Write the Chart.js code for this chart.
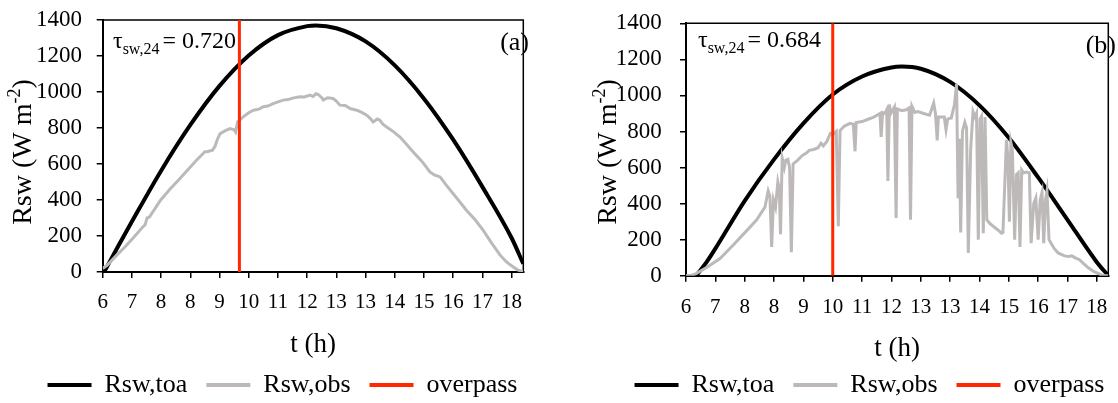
<!DOCTYPE html>
<html>
<head>
<meta charset="utf-8">
<script src="https://cdn.jsdelivr.net/npm/chart.js@4.4.1/dist/chart.umd.min.js"></script>
<style>
html, body { margin: 0; padding: 0; background: #fff; overflow: hidden; }
#wrap { position: relative; width: 1118px; height: 403px; overflow: hidden; background: #fff; }
.panel { position: absolute; top: 0; height: 408px; }
#panelA { left: 0; width: 559px; }
#panelB { left: 559px; width: 620px; }
</style>
</head>
<body>
<div id="wrap">
  <div class="panel" id="panelA"><canvas id="chartA" width="559" height="408"></canvas></div>
  <div class="panel" id="panelB"><canvas id="chartB" width="620" height="408"></canvas></div>
</div>
<script>
// x positions are in tick slots (0 = first tick "6", 14 = last tick "18")
const xTickLabels = ["6", "7", "8", "8", "9", "10", "11", "12", "13", "13", "14", "15", "16", "17", "18"];

// panel (a)
const toaA = [[0.05, 0], [0.5, 135], [1, 280], [2, 563], [3, 817], [4, 1034], [5, 1203], [6, 1316],
    [7, 1366], [7.3, 1370], [8, 1354], [9, 1281], [10, 1148], [11, 963], [12, 735], [13, 473],
    [14, 189], [14.4, 46]];
const obsA = [[0, 20], [0.15, 37], [0.45, 88], [0.76, 139], [1.05, 190], [1.37, 250], [1.45, 262],
    [1.52, 300], [1.6, 305], [1.98, 399], [2.3, 460], [2.59, 510], [2.9, 565], [3.21, 621],
    [3.45, 660], [3.5, 668], [3.6, 670], [3.76, 677], [3.85, 700], [3.92, 735], [4.02, 769],
    [4.2, 785], [4.36, 797], [4.5, 790], [4.55, 778], [4.62, 834], [4.81, 862], [5.0, 885],
    [5.16, 899], [5.35, 905], [5.5, 918], [5.65, 922], [5.84, 936], [6.0, 945], [6.18, 955],
    [6.35, 958], [6.5, 966], [6.75, 973], [6.9, 972], [7.1, 983], [7.2, 975], [7.3, 990],
    [7.38, 986], [7.5, 968], [7.55, 955], [7.7, 968], [7.89, 964], [8.0, 950], [8.12, 927],
    [8.3, 925], [8.4, 915], [8.47, 908], [8.7, 899], [8.85, 888], [9.04, 871], [9.15, 855],
    [9.26, 834], [9.4, 850], [9.49, 843], [9.6, 820], [9.72, 806], [9.95, 780], [10.18, 750],
    [10.4, 710], [10.63, 667], [10.9, 620], [11.05, 590], [11.2, 556], [11.35, 540], [11.55, 528],
    [11.75, 485], [12.0, 435], [12.25, 385], [12.46, 342], [12.75, 290], [13.03, 231], [13.3, 165],
    [13.6, 95], [13.8, 60], [13.95, 40], [14.2, 12], [14.4, 2]];
const overpassA = 4.68;
const tauA = "0.720";

// panel (b)
const toaB = [[0.35, 0], [0.7, 75], [1, 150], [2, 415], [3, 645], [4, 845], [5, 1005], [6, 1105],
    [7, 1155], [7.35, 1160], [8, 1148], [9, 1075], [10, 945], [11, 765], [12, 545], [13, 310],
    [14, 75], [14.39, 0]];
const obsB = [[0, 0], [0.2, 2], [0.36, 13], [0.7, 45], [1.16, 95], [1.61, 170], [2.07, 250],
    [2.41, 310], [2.69, 380], [2.8, 470], [2.86, 440], [2.92, 160], [2.98, 420], [3.05, 380],
    [3.13, 520], [3.18, 480], [3.22, 230], [3.26, 530], [3.28, 650], [3.35, 600], [3.4, 640],
    [3.47, 645], [3.53, 600], [3.59, 130], [3.65, 620], [3.8, 640], [3.95, 665], [4.1, 680],
    [4.2, 695], [4.35, 700], [4.5, 710], [4.6, 735], [4.68, 720], [4.8, 745], [4.92, 790],
    [5.02, 785], [5.12, 800], [5.19, 275], [5.25, 805], [5.4, 830], [5.59, 845], [5.7, 840],
    [5.76, 690], [5.8, 850], [6.0, 855], [6.16, 865], [6.4, 880], [6.61, 900], [6.65, 770],
    [6.7, 905], [6.78, 900], [6.84, 920], [6.88, 525], [6.93, 950], [6.98, 900], [7.1, 935],
    [7.16, 320], [7.2, 925], [7.35, 915], [7.5, 920], [7.6, 930], [7.65, 310], [7.7, 940],
    [7.8, 905], [7.9, 910], [8.1, 900], [8.3, 890], [8.44, 957], [8.5, 900], [8.56, 750],
    [8.6, 880], [8.8, 880], [8.86, 810], [8.92, 870], [9.04, 875], [9.15, 950], [9.22, 1065],
    [9.27, 430], [9.31, 760], [9.36, 240], [9.42, 800], [9.5, 850], [9.56, 820], [9.62, 126],
    [9.7, 700], [9.78, 910], [9.85, 880], [9.9, 900], [9.96, 200], [10.02, 870], [10.07, 885],
    [10.13, 236], [10.19, 880], [10.25, 310], [10.35, 290], [10.5, 270], [10.62, 255],
    [10.75, 236], [10.8, 240], [10.92, 754], [10.97, 650], [11.02, 300], [11.07, 740],
    [11.12, 700], [11.2, 200], [11.26, 560], [11.32, 570], [11.38, 160], [11.44, 585],
    [11.5, 570], [11.6, 575], [11.7, 570], [11.76, 180], [11.85, 400], [11.92, 430], [12.0, 200],
    [12.07, 420], [12.13, 460], [12.19, 180], [12.25, 420], [12.3, 470], [12.37, 200],
    [12.44, 180], [12.55, 150], [12.68, 126], [12.9, 110], [13.04, 107], [13.15, 110],
    [13.28, 98], [13.4, 90], [13.53, 70], [13.7, 45], [13.89, 24], [14.13, 6], [14.3, 0], [14.39, 0]];
const overpassB = 5.0;
const tauB = "0.684";

const SERIF = "\"Liberation Serif\", \"Times New Roman\", serif";
const GRAY = "#bdb9b9";
const RED = "#ff2800";

function toPoints(pairs) {
    return pairs.map(p => ({ x: p[0], y: p[1] }));
}

// frame on top/right, tau label, panel letter, y title with superscript
const panelText = {
    id: "panelText",
    beforeDatasetsDraw(chart) {
        const { ctx, chartArea: a } = chart;
        ctx.save();
        ctx.strokeStyle = "#000";
        ctx.lineWidth = 1.5;
        ctx.beginPath();
        ctx.moveTo(a.left, a.top);
        ctx.lineTo(a.right, a.top);
        ctx.lineTo(a.right, a.bottom);
        ctx.stroke();
        ctx.restore();
    },
    afterDraw(chart, args, o) {
        const ctx = chart.ctx;
        ctx.save();
        ctx.fillStyle = "#000";
        ctx.textBaseline = "alphabetic";

        // tau label
        let x = o.tauX;
        ctx.font = "24px " + SERIF;
        ctx.fillText("\u03c4", x, o.tauBase);
        x += ctx.measureText("\u03c4").width;
        ctx.font = "16px " + SERIF;
        ctx.fillText("sw,24", x, o.tauBase + 6);
        x += ctx.measureText("sw,24").width + 3;
        ctx.font = "24px " + SERIF;
        ctx.fillText("= " + o.tau, x, o.tauBase);

        // panel letter
        ctx.font = "26px " + SERIF;
        ctx.textAlign = "right";
        ctx.fillText(o.letter, o.letterX, o.letterBase);
        ctx.textAlign = "left";

        // y axis title
        const parts = [["Rsw (W m", "28px " + SERIF, 0], ["-2", "18px " + SERIF, -11], [")", "28px " + SERIF, 0]];
        let total = 0;
        parts.forEach(p => { ctx.font = p[1]; total += ctx.measureText(p[0]).width; });
        ctx.translate(o.titleX, o.titleY);
        ctx.rotate(-Math.PI / 2);
        let tx = -total / 2;
        parts.forEach(p => {
            ctx.font = p[1];
            ctx.fillText(p[0], tx, 8 + p[2]);
            tx += ctx.measureText(p[0]).width;
        });
        ctx.restore();
    }
};

function buildPanel(canvasId, p) {
    return new Chart(document.getElementById(canvasId), {
        type: "line",
        data: {
            datasets: [
                {
                    label: "Rsw,toa",
                    data: toPoints(p.toa),
                    xAxisID: "x",
                    yAxisID: "y",
                    borderColor: "#000",
                    backgroundColor: "#000",
                    borderWidth: 4,
                    cubicInterpolationMode: "monotone",
                    order: 2
                },
                {
                    label: "Rsw,obs",
                    data: toPoints(p.obs),
                    xAxisID: "x",
                    yAxisID: "y",
                    borderColor: GRAY,
                    backgroundColor: GRAY,
                    borderWidth: 3,
                    order: 1
                },
                {
                    label: "overpass",
                    data: [{ x: p.overpass, y: 0 }, { x: p.overpass, y: 1400 }],
                    xAxisID: "x",
                    yAxisID: "y",
                    borderColor: RED,
                    backgroundColor: RED,
                    borderWidth: 3,
                    order: 0
                }
            ]
        },
        options: {
            responsive: false,
            animation: false,
            events: [],
            elements: { point: { radius: 0 }, line: { borderCapStyle: "butt" } },
            layout: { padding: { left: p.padLeft, right: p.padRight, top: p.padTop, bottom: 0 } },
            plugins: {
                tooltip: { enabled: false },
                legend: {
                    position: "bottom",
                    labels: {
                        color: "#000",
                        font: { family: SERIF, size: 26 },
                        boxWidth: 44,
                        boxHeight: 4,
                        padding: 19,
                        sort: (a, b) => a.datasetIndex - b.datasetIndex,
                        generateLabels: chart => Chart.defaults.plugins.legend.labels.generateLabels(chart)
                            .map(l => Object.assign(l, { fillStyle: l.strokeStyle, lineWidth: 0 }))
                    }
                },
                panelText: {
                    tau: p.tau, tauX: p.tauX, tauBase: p.tauBase,
                    letter: p.letter, letterX: p.letterX, letterBase: p.letterBase,
                    titleX: p.titleX, titleY: p.titleY
                }
            },
            scales: {
                x: {
                    type: "linear",
                    min: 0,
                    max: p.xMax,
                    afterBuildTicks: s => { s.ticks = xTickLabels.map((_, i) => ({ value: i })); },
                    afterFit: s => { s.height = p.xHeight; },
                    grid: { drawOnChartArea: false, drawTicks: true, tickLength: 6, color: "#000", lineWidth: 1.5 },
                    border: { display: true, color: "#000", width: 2 },
                    ticks: {
                        autoSkip: false,
                        maxRotation: 0,
                        color: "#000",
                        padding: p.xTickPad,
                        font: { family: SERIF, size: 21 },
                        callback: v => xTickLabels[v] ?? ""
                    },
                    title: {
                        display: true,
                        text: "t (h)",
                        color: "#000",
                        font: { family: SERIF, size: 27, lineHeight: 1 },
                        padding: { top: 0, bottom: p.titlePadBottom }
                    }
                },
                y: {
                    position: "left",
                    min: 0,
                    max: 1400,
                    afterFit: s => { s.width = p.yWidth; s.paddingTop = 0; s.paddingBottom = 0; },
                    grid: { drawOnChartArea: false, drawTicks: true, tickLength: 6, color: "#000", lineWidth: 1.5 },
                    border: { display: true, color: "#000", width: 2 },
                    ticks: {
                        stepSize: 200,
                        autoSkip: false,
                        color: "#000",
                        padding: p.yTickPad,
                        font: { family: SERIF, size: 23 },
                        callback: v => String(v)
                    }
                },
                // empty spacer on the right so the plot keeps its width
                yR: {
                    position: "right",
                    min: 0,
                    max: 1400,
                    afterFit: s => { s.width = p.rightWidth; s.paddingTop = 0; s.paddingBottom = 0; },
                    grid: { display: false },
                    border: { display: false },
                    ticks: { display: false }
                }
            }
        },
        plugins: [panelText]
    });
}

buildPanel("chartA", {
    toa: toaA, obs: obsA, overpass: overpassA, tau: tauA, letter: "(a)", xMax: 14.4,
    padLeft: 20, padRight: 14, padTop: 20, yWidth: 82.7, rightWidth: 21.7, xHeight: 81,
    yTickPad: 14.7, xTickPad: 11.4, titlePadBottom: -5.5,
    tauX: 113, tauBase: 48, letterX: 529, letterBase: 50, titleX: 23, titleY: 152
});

buildPanel("chartB", {
    toa: toaB, obs: obsB, overpass: overpassB, tau: tauB, letter: "(b)", xMax: 14.39,
    padLeft: 40, padRight: 39, padTop: 23.3, yWidth: 87, rightWidth: 31.7, xHeight: 77.3,
    yTickPad: 18.3, xTickPad: 12.7, titlePadBottom: -9.5,
    tauX: 139, tauBase: 47, letterX: 557, letterBase: 53, titleX: 48.5, titleY: 152
});
</script>
</body>
</html>
